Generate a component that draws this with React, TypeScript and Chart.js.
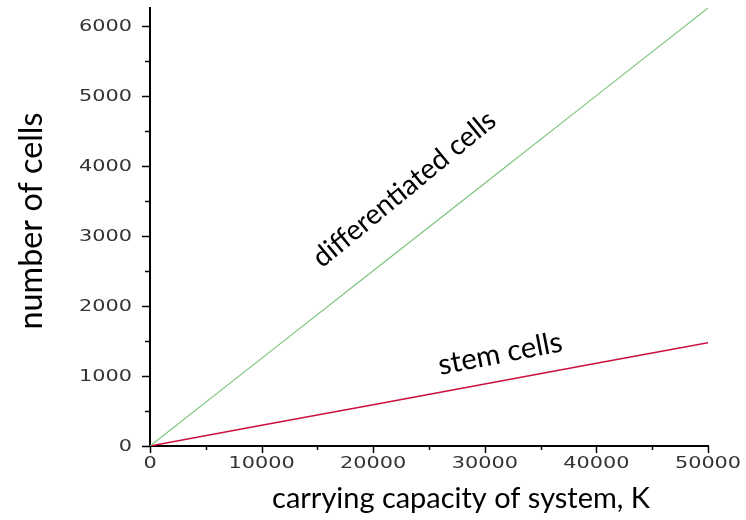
import React, { useEffect, useRef } from "react";
import { Chart, registerables } from "chart.js";

Chart.register(...registerables);

const capacityK = [0, 10000, 20000, 30000, 40000, 50000];
const differentiatedCells = [0, 1250, 2500, 3750, 5000, 6250];
const stemCells = [0, 295, 590, 885, 1180, 1475];
const xMajorTicks = [0, 10000, 20000, 30000, 40000, 50000];
const xMinorTicks = [5000, 15000, 25000, 35000, 45000];
const yMajorTicks = [0, 1000, 2000, 3000, 4000, 5000, 6000];
const yMinorTicks = [500, 1500, 2500, 3500, 4500, 5500];
const xTitle = "carrying capacity of system, K";
const yTitle = "number of cells";
const diffLabel = "differentiated cells";
const stemLabel = "stem cells";

const TEXT_FONT = "Lato, 'Open Sans', sans-serif";

function fitFont(ctx: CanvasRenderingContext2D, text: string, width: number) {
  ctx.font = `40px ${TEXT_FONT}`;
  const w = ctx.measureText(text).width;
  const size = (40 * width) / w;
  ctx.font = `${size}px ${TEXT_FONT}`;
}

const overlayPlugin = {
  id: "overlay",
  afterDraw(chart: any) {
    const ctx: CanvasRenderingContext2D = chart.ctx;
    const xs = chart.scales.x;
    const ys = chart.scales.y;
    const left = chart.chartArea.left;
    const bottom = chart.chartArea.bottom;
    ctx.save();
    ctx.strokeStyle = "#000";
    ctx.lineWidth = 1.5;
    ctx.beginPath();
    yMajorTicks.forEach((v) => {
      const p = Math.round(ys.getPixelForValue(v)) + 0.5;
      ctx.moveTo(left - 8, p);
      ctx.lineTo(left, p);
    });
    yMinorTicks.forEach((v) => {
      const p = Math.round(ys.getPixelForValue(v)) + 0.5;
      ctx.moveTo(left - 5, p);
      ctx.lineTo(left, p);
    });
    xMajorTicks.forEach((v) => {
      const p = Math.round(xs.getPixelForValue(v)) + 0.5;
      ctx.moveTo(p, bottom);
      ctx.lineTo(p, bottom + 7);
    });
    xMinorTicks.forEach((v) => {
      const p = Math.round(xs.getPixelForValue(v)) + 0.5;
      ctx.moveTo(p, bottom);
      ctx.lineTo(p, bottom + 4);
    });
    ctx.stroke();

    ctx.fillStyle = "#333";
    ctx.font = "16px 'DejaVu Sans'";
    const sx = 1.3;
    yMajorTicks.forEach((v) => {
      const p = ys.getPixelForValue(v);
      ctx.save();
      ctx.translate(left - 18, p + 1);
      ctx.scale(sx, 1);
      ctx.textAlign = "right";
      ctx.textBaseline = "middle";
      ctx.fillText(String(v), 0, 0);
      ctx.restore();
    });
    xMajorTicks.forEach((v) => {
      const p = xs.getPixelForValue(v);
      ctx.save();
      ctx.translate(p, bottom + 18);
      ctx.scale(sx, 1);
      ctx.textAlign = "center";
      ctx.textBaseline = "middle";
      ctx.fillText(String(v), 0, 0);
      ctx.restore();
    });

    ctx.fillStyle = "#000";
    ctx.textAlign = "center";
    ctx.textBaseline = "alphabetic";
    fitFont(ctx, xTitle, 378);
    ctx.fillText(xTitle, 461, 508);

    ctx.save();
    ctx.translate(42, 221);
    ctx.rotate(-Math.PI / 2);
    fitFont(ctx, yTitle, 217);
    ctx.fillText(yTitle, 0, 0);
    ctx.restore();

    ctx.save();
    ctx.translate(410, 196);
    ctx.rotate((-39.5 * Math.PI) / 180);
    fitFont(ctx, diffLabel, 228);
    ctx.fillText(diffLabel, 0, 0);
    ctx.restore();

    ctx.save();
    ctx.translate(502, 363);
    ctx.rotate((-11 * Math.PI) / 180);
    fitFont(ctx, stemLabel, 126);
    ctx.fillText(stemLabel, 0, 0);
    ctx.restore();

    ctx.restore();
  },
};

export default function App() {
  const ref = useRef<HTMLCanvasElement | null>(null);
  useEffect(() => {
    if (!ref.current) return;
    const chart = new Chart(ref.current, {
      type: "line",
      data: {
        datasets: [
          {
            label: diffLabel,
            data: capacityK.map((x, i) => ({ x, y: differentiatedCells[i] })),
            borderColor: "#7cc47c",
            borderWidth: 1.2,
            pointRadius: 0,
            fill: false,
          },
          {
            label: stemLabel,
            data: capacityK.map((x, i) => ({ x, y: stemCells[i] })),
            borderColor: "#cc1040",
            borderWidth: 1.5,
            pointRadius: 0,
            fill: false,
          },
        ],
      },
      options: {
        animation: false,
        responsive: false,
        events: [],
        layout: { padding: { left: 150, right: 38, top: 8, bottom: 74 } },
        plugins: { legend: { display: false }, tooltip: { enabled: false } },
        scales: {
          x: {
            type: "linear",
            min: 0,
            max: 50000,
            grid: { display: false },
            border: { display: true, color: "#000", width: 2 },
            ticks: { display: false },
            afterFit: (s: any) => {
              s.height = 0;
            },
          },
          y: {
            type: "linear",
            min: 0,
            max: 6250,
            grid: { display: false },
            border: { display: true, color: "#000", width: 2 },
            ticks: { display: false },
            afterFit: (s: any) => {
              s.width = 0;
            },
          },
        },
      },
      plugins: [overlayPlugin],
    });
    return () => chart.destroy();
  }, []);
  return (
    <div style={{ position: "fixed", left: 0, top: 0, width: 746, height: 520, background: "#fff" }}>
      <canvas ref={ref} width={746} height={520} />
    </div>
  );
}
